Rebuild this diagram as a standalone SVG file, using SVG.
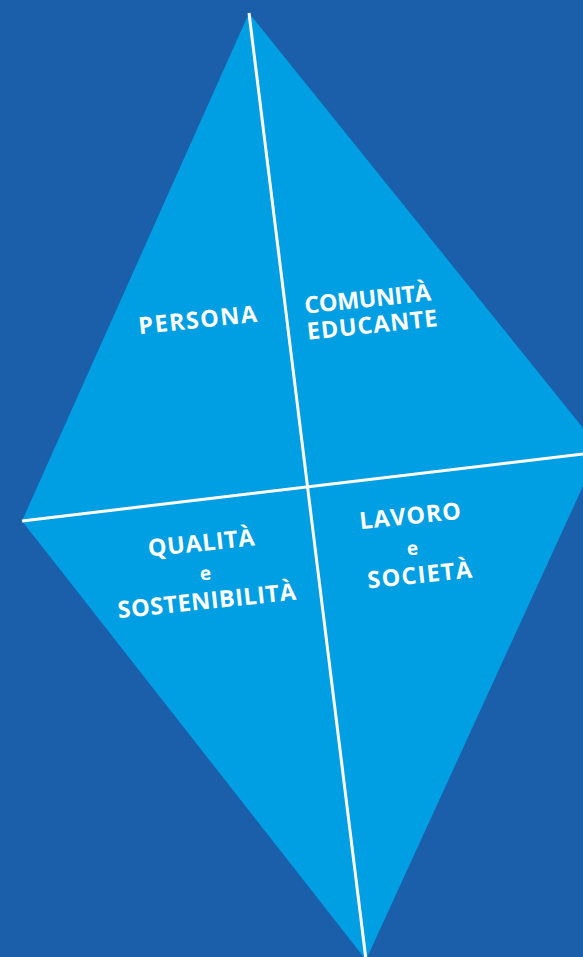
<svg xmlns="http://www.w3.org/2000/svg" width="583" height="957" viewBox="0 0 583 957">
  <style>
    .lbl { font-family: "Open Sans", "Lato", "DejaVu Sans", sans-serif; font-weight: 700; fill: #ffffff; font-size: 23.5px; text-anchor: middle; }
    .small { font-size: 19px; }
    .div { stroke: #ffffff; stroke-width: 3; fill: none; stroke-linecap: butt; }
  </style>
  <rect x="0" y="0" width="583" height="957" fill="#1b5fab"/>
  <polygon id="rhombus" points="249,13 600,449 366,960 22,521" fill="#009ee2"/>
  <g id="connectors">
    <line class="div" x1="249" y1="13" x2="366" y2="960"/>
    <line class="div" x1="22" y1="521" x2="600" y2="452"/>
  </g>
  <g id="persona">
    <text class="lbl" x="198.5" y="328" textLength="119" lengthAdjust="spacing" transform="rotate(-6 198.5 328)">PERSONA</text>
  </g>
  <g id="comunita-educante">
    <text class="lbl" x="368.5" y="307" textLength="127" lengthAdjust="spacing" transform="rotate(-6 368.5 307)">COMUNITÀ</text>
    <text class="lbl" x="373" y="333" textLength="131" lengthAdjust="spacing" transform="rotate(-6 373 333)">EDUCANTE</text>
  </g>
  <g id="qualita-sostenibilita">
    <text class="lbl" x="202" y="551" textLength="107" lengthAdjust="spacing" transform="rotate(-6 202 551)">QUALITÀ</text>
    <text class="lbl small" x="206" y="580" transform="rotate(-6 206 580)">e</text>
    <text class="lbl" x="207.5" y="609" textLength="179" lengthAdjust="spacing" transform="rotate(-6 207.5 609)">SOSTENIBILITÀ</text>
  </g>
  <g id="lavoro-societa">
    <text class="lbl" x="411" y="524" textLength="102" lengthAdjust="spacing" transform="rotate(-6 411 524)">LAVORO</text>
    <text class="lbl small" x="413" y="555" transform="rotate(-6 413 555)">e</text>
    <text class="lbl" x="420.5" y="583" textLength="105" lengthAdjust="spacing" transform="rotate(-6 420.5 583)">SOCIETÀ</text>
  </g>
</svg>
